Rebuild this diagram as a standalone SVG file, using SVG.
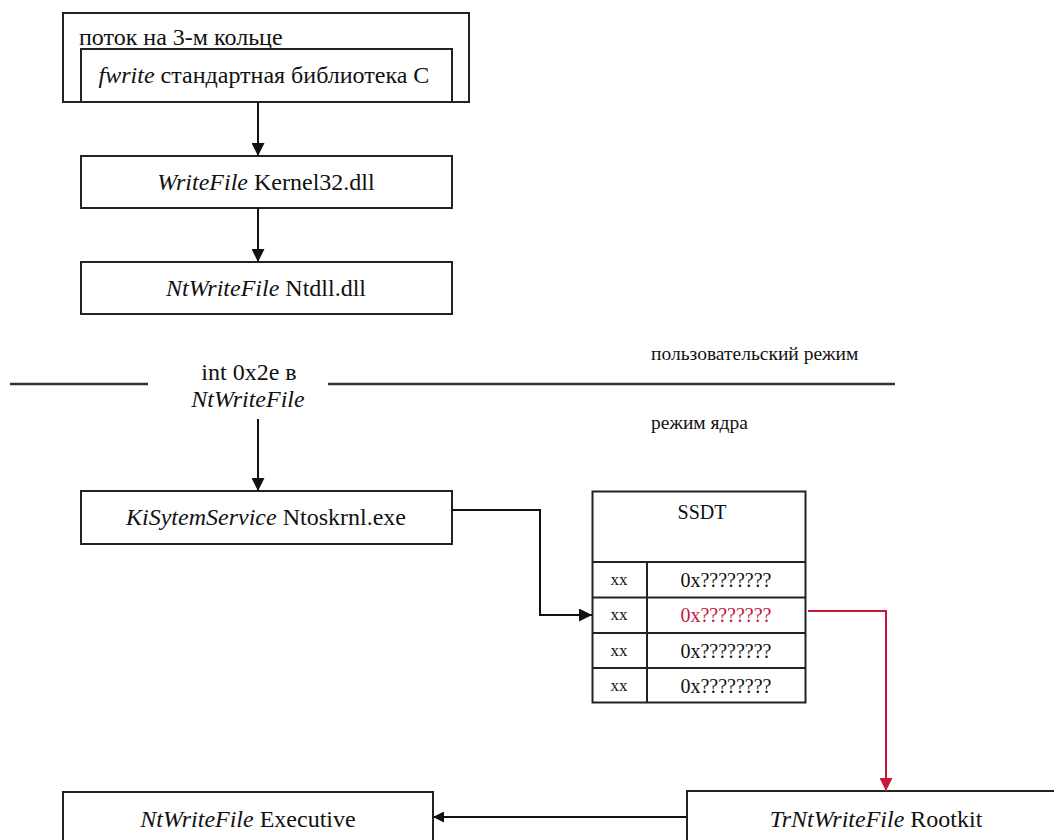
<svg xmlns="http://www.w3.org/2000/svg" width="1054" height="840" viewBox="0 0 1054 840">
  <defs>
    <style>
      .box { fill: #ffffff; stroke: #222222; stroke-width: 2; }
      .cell { fill: none; stroke: #222222; stroke-width: 2; }
      text { font-family: "Liberation Serif", "Tinos", "Times New Roman", "Nimbus Roman", "DejaVu Serif", serif; fill: #111111; }
      .lbl { font-size: 24px; }
      .it { font-style: italic; }
      .small { font-size: 19.5px; }
      .tbl { font-size: 20px; }
      .hot { fill: #c8163c; }
      .xx { font-size: 17px; }
      .wire { fill: none; stroke: #111111; stroke-width: 2; }
      .wire-red { fill: none; stroke: #c8163c; stroke-width: 2; }
      .sep { fill: none; stroke: #333333; stroke-width: 2.5; }
    </style>
    <marker id="arrow" viewBox="0 0 10 10" refX="10" refY="5" markerWidth="15" markerHeight="13" markerUnits="userSpaceOnUse" orient="auto">
      <path d="M0,0 L10,5 L0,10 z" fill="#111111"/>
    </marker>
    <marker id="arrow-small" viewBox="0 0 10 10" refX="10" refY="5" markerWidth="11" markerHeight="11" markerUnits="userSpaceOnUse" orient="auto">
      <path d="M0,0 L10,5 L0,10 z" fill="#111111"/>
    </marker>
    <marker id="arrow-red" viewBox="0 0 10 10" refX="10" refY="5" markerWidth="15" markerHeight="13" markerUnits="userSpaceOnUse" orient="auto">
      <path d="M0,0 L10,5 L0,10 z" fill="#c8163c"/>
    </marker>
  </defs>

  <!-- user-mode thread with the C runtime call inside -->
  <g id="ring3-thread">
    <rect class="box" x="63" y="13" width="406" height="89"/>
    <text class="lbl" x="79" y="45">поток на 3-м кольце</text>
  </g>
  <g id="fwrite">
    <rect class="box" x="81" y="49" width="371" height="53"/>
    <text class="lbl" x="264" y="83" text-anchor="middle"><tspan class="it">fwrite</tspan> стандартная библиотека С</text>
  </g>

  <g id="writefile">
    <rect class="box" x="81" y="156" width="371" height="52"/>
    <text class="lbl" x="266" y="190" text-anchor="middle"><tspan class="it">WriteFile</tspan> Kernel32.dll</text>
  </g>

  <g id="ntwritefile-ntdll">
    <rect class="box" x="81" y="262" width="371" height="52"/>
    <text class="lbl" x="266" y="296" text-anchor="middle"><tspan class="it">NtWriteFile</tspan> Ntdll.dll</text>
  </g>

  <!-- user / kernel boundary -->
  <g id="boundary">
    <line class="sep" x1="10" y1="384" x2="148" y2="384"/>
    <line class="sep" x1="328" y1="384" x2="895" y2="384"/>
    <text class="lbl" x="249" y="380" text-anchor="middle">int 0x2e в</text>
    <text class="lbl it" x="248" y="407" text-anchor="middle">NtWriteFile</text>
    <text class="small" x="651" y="360">пользовательский режим</text>
    <text class="small" x="651" y="429">режим ядра</text>
  </g>

  <g id="kisystemservice">
    <rect class="box" x="81" y="491" width="371" height="53"/>
    <text class="lbl" x="266" y="525" text-anchor="middle"><tspan class="it">KiSytemService</tspan> Ntoskrnl.exe</text>
  </g>

  <!-- system service descriptor table -->
  <g id="ssdt">
    <rect class="box" x="592.5" y="491.5" width="213" height="211"/>
    <line class="cell" x1="592.5" y1="562" x2="805.5" y2="562"/>
    <line class="cell" x1="592.5" y1="597.5" x2="805.5" y2="597.5"/>
    <line class="cell" x1="592.5" y1="633" x2="805.5" y2="633"/>
    <line class="cell" x1="592.5" y1="668" x2="805.5" y2="668"/>
    <line class="cell" x1="647" y1="562" x2="647" y2="702.5"/>
    <text class="tbl" x="702" y="519" text-anchor="middle">SSDT</text>
    <text class="xx" x="619" y="585" text-anchor="middle">xx</text>
    <text class="xx" x="619" y="620" text-anchor="middle">xx</text>
    <text class="xx" x="619" y="656" text-anchor="middle">xx</text>
    <text class="xx" x="619" y="691" text-anchor="middle">xx</text>
    <text class="tbl" x="726" y="587" text-anchor="middle">0x????????</text>
    <text class="tbl hot" x="726" y="622" text-anchor="middle">0x????????</text>
    <text class="tbl" x="726" y="658" text-anchor="middle">0x????????</text>
    <text class="tbl" x="726" y="693" text-anchor="middle">0x????????</text>
  </g>

  <g id="ntwritefile-executive">
    <rect class="box" x="63" y="792" width="370" height="60"/>
    <text class="lbl" x="248" y="827" text-anchor="middle"><tspan class="it">NtWriteFile</tspan> Executive</text>
  </g>

  <g id="rootkit">
    <rect class="box" x="687" y="791" width="380" height="60"/>
    <text class="lbl" x="876" y="827" text-anchor="middle"><tspan class="it">TrNtWriteFile</tspan> Rootkit</text>
  </g>

  <g id="connectors">
    <line class="wire" x1="258" y1="102" x2="258" y2="156" marker-end="url(#arrow)"/>
    <line class="wire" x1="258" y1="208" x2="258" y2="262" marker-end="url(#arrow)"/>
    <line class="wire" x1="258" y1="419" x2="258" y2="491" marker-end="url(#arrow)"/>
    <polyline class="wire" points="452,510 540,510 540,615 592,615" marker-end="url(#arrow)"/>
    <polyline class="wire-red" points="808,611 886,611 886,791" marker-end="url(#arrow-red)"/>
    <line class="wire" x1="687" y1="817" x2="433" y2="817" marker-end="url(#arrow-small)"/>
  </g>
</svg>
